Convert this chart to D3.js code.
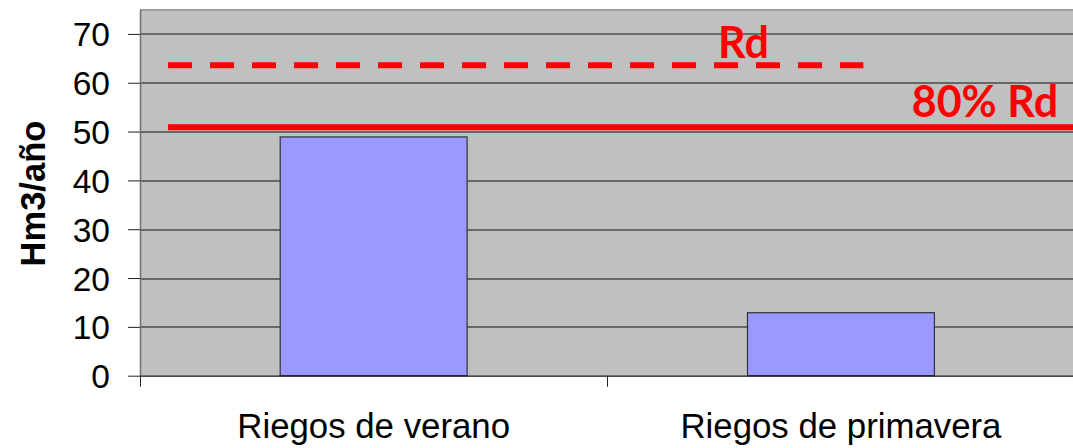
<!DOCTYPE html>
<html>
<head>
<meta charset="utf-8">
<script src="https://cdn.jsdelivr.net/npm/d3@7"></script>
<style>
  html, body { margin: 0; padding: 0; background: #ffffff; }
  svg { display: block; }
</style>
</head>
<body>
<svg id="chart" width="1073" height="448"></svg>
<script>
// Water demand by irrigation type (Hm3/año) against the Rd reference
const categories = ["Riegos de verano", "Riegos de primavera"];
const values = [48.9, 12.9];
const yTicks = [0, 10, 20, 30, 40, 50, 60, 70];
const rdValue = 63.6;
const rdShare = 0.8;
const rdLabel = "Rd";
const rdShareLabel = "80% Rd";
const yTitle = "Hm3/año";

const svg = d3.select("#chart");
const margin = { left: 140, top: 9.5 };
const plotW = 934.6;
const plotH = 366.2;

const g = svg.append("g").attr("transform", `translate(${margin.left},${margin.top})`);

const x = d3.scaleBand().domain(categories).range([0, plotW]).paddingInner(0).paddingOuter(0);
const y = d3.scaleLinear().domain([0, 75]).range([plotH, 0]);
// continuous position across the category axis, used for the reference lines
const xPos = d3.scaleLinear().domain([0, categories.length]).range([0, plotW]);

// plot background
g.append("rect")
  .attr("x", 0).attr("y", 0)
  .attr("width", plotW).attr("height", plotH)
  .attr("fill", "#c0c0c0");

// top border of the plot area
g.append("line")
  .attr("x1", 0).attr("x2", plotW)
  .attr("y1", 0.5).attr("y2", 0.5)
  .attr("stroke", "#9c9c9c").attr("stroke-width", 2);

// horizontal gridlines
g.append("g")
  .selectAll("line")
  .data(yTicks.filter(d => d > 0))
  .join("line")
  .attr("x1", 0).attr("x2", plotW)
  .attr("y1", d => Math.round(y(d)) + 0.5)
  .attr("y2", d => Math.round(y(d)) + 0.5)
  .attr("stroke", "#111").attr("stroke-width", 1);

// bars
const barFrac = 0.4;
g.append("g")
  .selectAll("rect")
  .data(categories.map((c, i) => ({ c, v: values[i] })))
  .join("rect")
  .attr("x", d => x(d.c) + x.bandwidth() * (1 - barFrac) / 2)
  .attr("width", x.bandwidth() * barFrac)
  .attr("y", d => y(d.v))
  .attr("height", d => y(0) - y(d.v))
  .attr("fill", "#9999ff")
  .attr("stroke", "#333333")
  .attr("stroke-width", 1.2);

// Rd reference (dashed) and 80% Rd (solid)
g.append("line")
  .attr("x1", xPos(0.06)).attr("x2", xPos(1.548))
  .attr("y1", y(rdValue)).attr("y2", y(rdValue))
  .attr("stroke", "#ff0000").attr("stroke-width", 6)
  .attr("stroke-dasharray", "24,18");

g.append("line")
  .attr("x1", xPos(0.06)).attr("x2", xPos(2))
  .attr("y1", y(rdValue * rdShare)).attr("y2", y(rdValue * rdShare))
  .attr("stroke", "#ff0000").attr("stroke-width", 6);

g.append("text")
  .attr("x", xPos(1.237))
  .attr("y", y(rdValue) - 7.5)
  .attr("fill", "#ff0000")
  .attr("font-family", "Lato, 'Liberation Sans', sans-serif")
  .attr("font-weight", "bold")
  .attr("font-size", 43)
  .text(rdLabel);

g.append("text")
  .attr("x", xPos(1.965))
  .attr("y", y(rdValue * rdShare) - 10)
  .attr("text-anchor", "end")
  .attr("fill", "#ff0000")
  .attr("font-family", "Lato, 'Liberation Sans', sans-serif")
  .attr("font-weight", "bold")
  .attr("font-size", 43)
  .text(rdShareLabel);

// y axis
const yAxis = d3.axisLeft(y).tickValues(yTicks).tickSize(12).tickPadding(18).tickSizeOuter(0);
const yg = g.append("g").call(yAxis);
yg.select(".domain").attr("stroke", "#707070").attr("stroke-width", 1.5);
yg.selectAll(".tick line").attr("stroke", "#222");
yg.selectAll(".tick text")
  .attr("font-family", "'Liberation Sans', Arial, sans-serif")
  .attr("font-size", 33.5)
  .attr("fill", "#000")
  .attr("dy", "0.36em");

// x axis
const xAxis = d3.axisBottom(x).tickSize(0).tickPadding(0).tickSizeOuter(0);
const xg = g.append("g").attr("transform", `translate(0,${plotH})`).call(xAxis);
xg.select(".domain").attr("stroke", "#111").attr("stroke-width", 1.2);
xg.selectAll(".tick text")
  .attr("font-family", "'Liberation Sans', Arial, sans-serif")
  .attr("font-size", 34.8)
  .attr("fill", "#000")
  .attr("dy", 0)
  .attr("y", 62.5);

// category boundary tick marks
g.append("g")
  .selectAll("line")
  .data(d3.range(categories.length + 1))
  .join("line")
  .attr("x1", d => Math.round(xPos(d)) + 0.5)
  .attr("x2", d => Math.round(xPos(d)) + 0.5)
  .attr("y1", plotH)
  .attr("y2", plotH + 11)
  .attr("stroke", "#222").attr("stroke-width", 1);

// y axis title
svg.append("text")
  .attr("transform", `translate(45,${margin.top + y(37.3)}) rotate(-90)`)
  .attr("text-anchor", "middle")
  .attr("font-family", "'Liberation Sans', Arial, sans-serif")
  .attr("font-weight", "bold")
  .attr("font-size", 34.5)
  .attr("fill", "#000")
  .text(yTitle);
</script>
</body>
</html>
